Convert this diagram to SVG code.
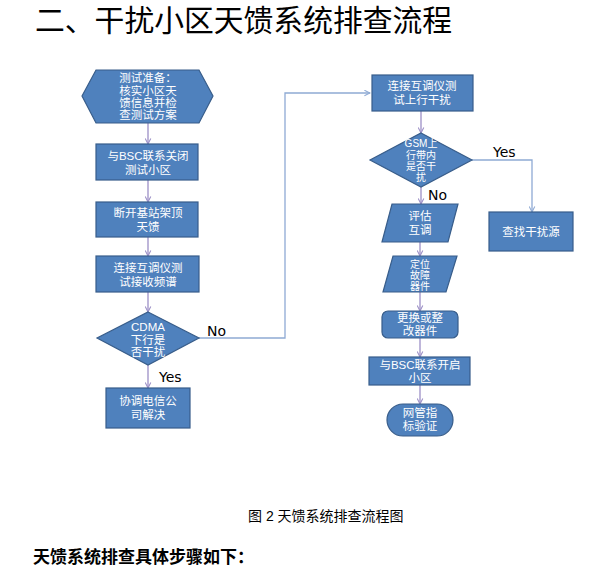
<svg xmlns="http://www.w3.org/2000/svg" width="592" height="568" viewBox="0 0 592 568">
<style>
.n{fill:#4F81BD;stroke:#385D8A;stroke-width:1.2}
.t{font-family:"Liberation Sans","Noto Sans CJK SC",sans-serif;font-size:11.5px;fill:#ffffff;text-anchor:middle}
.s{font-size:10px}
.c{fill:none;stroke:#9C8FC6;stroke-width:1.3}
.e{fill:none;stroke:#8FAAD4;stroke-width:1.3}
.y{font-family:"DejaVu Sans",sans-serif;font-size:14px;fill:#000}
</style>
<defs>
<marker id="a" viewBox="0 0 10 10" refX="9" refY="5" markerWidth="7" markerHeight="7" markerUnits="userSpaceOnUse" orient="auto">
<polyline points="1,1 9,5 1,9" fill="none" stroke="#9C8FC6" stroke-width="1.5"/>
</marker>
<marker id="b" viewBox="0 0 10 10" refX="9" refY="5" markerWidth="7" markerHeight="7" markerUnits="userSpaceOnUse" orient="auto">
<polyline points="1,1 9,5 1,9" fill="none" stroke="#8FAAD4" stroke-width="1.5"/>
</marker>
</defs>
<rect width="592" height="568" fill="#fff"/>
<text x="35" y="31" font-family="Liberation Sans,'Noto Sans CJK SC',sans-serif" font-size="29.8" fill="#000">二、干扰小区天馈系统排查流程</text>
<g id="connectors">
<line class="c" x1="148" y1="123" x2="148" y2="144" marker-end="url(#a)"/>
<line class="c" x1="148" y1="180" x2="148" y2="202" marker-end="url(#a)"/>
<line class="c" x1="148" y1="237" x2="148" y2="256" marker-end="url(#a)"/>
<line class="c" x1="148" y1="292" x2="148" y2="312" marker-end="url(#a)"/>
<line class="c" x1="148" y1="365" x2="148" y2="388" marker-end="url(#a)"/>
<polyline class="e" points="199,338 285,338 285,93 370,93" marker-end="url(#b)"/>
<line class="c" x1="421" y1="111" x2="421" y2="133" marker-end="url(#a)"/>
<polyline class="e" points="472,160 532,160 532,212" marker-end="url(#b)"/>
<line class="c" x1="421" y1="187" x2="421" y2="204" marker-end="url(#a)"/>
<line class="c" x1="420" y1="242" x2="420" y2="256" marker-end="url(#a)"/>
<line class="c" x1="420" y1="292" x2="420" y2="311" marker-end="url(#a)"/>
<line class="c" x1="420" y1="338" x2="420" y2="357" marker-end="url(#a)"/>
<line class="c" x1="420" y1="385" x2="420" y2="404" marker-end="url(#a)"/>
<text class="y" x="207" y="336">No</text>
<text class="y" x="159" y="382">Yes</text>
<text class="y" x="493" y="157">Yes</text>
<text class="y" x="428" y="200">No</text>
</g>
<g id="n1">
<polygon class="n" points="82,96 96,70 199,70 213,96 199,123 96,123"/>
<text class="t" x="148" y="82">测试准备：</text>
<text class="t" x="148" y="95">核实小区天</text>
<text class="t" x="148" y="107">馈信息并检</text>
<text class="t" x="148" y="119">查测试方案</text>
</g>
<g id="n2">
<rect class="n" x="96" y="144" width="102" height="36"/>
<text class="t" x="148" y="160">与BSC联系关闭</text>
<text class="t" x="148" y="174">测试小区</text>
</g>
<g id="n3">
<rect class="n" x="96" y="202" width="102" height="35"/>
<text class="t" x="148" y="217">断开基站架顶</text>
<text class="t" x="148" y="231">天馈</text>
</g>
<g id="n4">
<rect class="n" x="96" y="256" width="103" height="36"/>
<text class="t" x="148" y="272">连接互调仪测</text>
<text class="t" x="148" y="286">试接收频谱</text>
</g>
<g id="n5">
<polygon class="n" points="148,312 199,338 148,365 97,338"/>
<text class="t" x="148" y="331">CDMA</text>
<text class="t" x="148" y="344">下行是</text>
<text class="t" x="148" y="356">否干扰</text>
</g>
<g id="n6">
<rect class="n" x="106" y="388" width="84" height="40"/>
<text class="t" x="148" y="405">协调电信公</text>
<text class="t" x="148" y="419">司解决</text>
</g>
<g id="n7">
<rect class="n" x="372" y="75" width="101" height="36"/>
<text class="t" x="422" y="90">连接互调仪测</text>
<text class="t" x="422" y="104">试上行干扰</text>
</g>
<g id="n8">
<polygon class="n" points="421,133 472,160 421,187 370,160"/>
<text class="t s" x="421" y="147">GSM上</text>
<text class="t s" x="421" y="159">行带内</text>
<text class="t s" x="421" y="170">是否干</text>
<text class="t s" x="421" y="181">扰</text>
</g>
<g id="n9">
<rect class="n" x="489" y="212" width="84" height="39"/>
<text class="t" x="531" y="236">查找干扰源</text>
</g>
<g id="n10">
<polygon class="n" points="392,204 458,204 448,242 382,242"/>
<text class="t" x="420" y="220">评估</text>
<text class="t" x="420" y="234">互调</text>
</g>
<g id="n11">
<polygon class="n" points="393,256 457,256 446,292 383,292"/>
<text class="t s" x="420" y="268">定位</text>
<text class="t s" x="420" y="279">故障</text>
<text class="t s" x="420" y="290">器件</text>
</g>
<g id="n12">
<rect class="n" x="382" y="311" width="76" height="27" rx="6"/>
<text class="t" x="420" y="322">更换或整</text>
<text class="t" x="420" y="335">改器件</text>
</g>
<g id="n13">
<rect class="n" x="369" y="357" width="101" height="28"/>
<text class="t" x="420" y="369">与BSC联系开启</text>
<text class="t" x="420" y="382">小区</text>
</g>
<g id="n14">
<rect class="n" x="387" y="404" width="66" height="32" rx="16"/>
<text class="t" x="420" y="417">网管指</text>
<text class="t" x="420" y="430">标验证</text>
</g>
<text x="248" y="521" font-family="Liberation Sans,'Noto Sans CJK SC',sans-serif" font-size="14" fill="#000">图 2 天馈系统排查流程图</text>
<text x="33" y="563" font-family="Liberation Sans,'Noto Sans CJK SC',sans-serif" font-size="17" font-weight="bold" fill="#000">天馈系统排查具体步骤如下：</text>
</svg>
